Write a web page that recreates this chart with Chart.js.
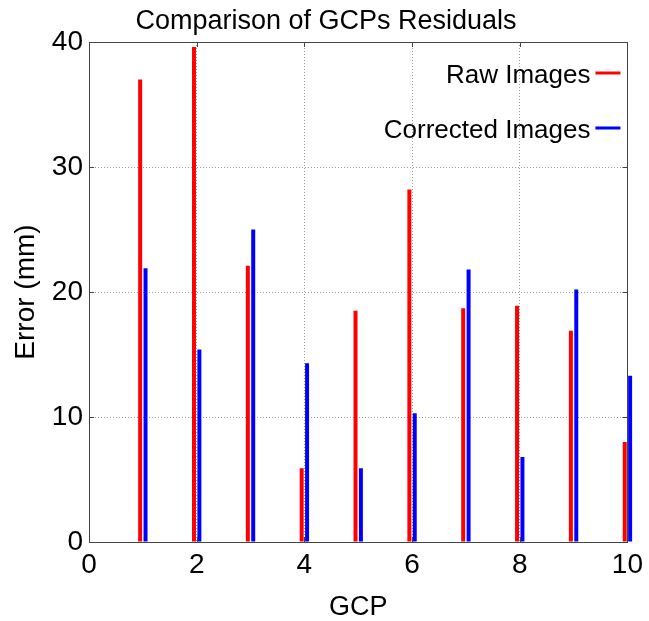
<!DOCTYPE html>
<html>
<head>
<meta charset="utf-8">
<script src="https://cdn.jsdelivr.net/npm/chart.js@4/dist/chart.umd.min.js"></script>
<style>
  html, body { margin: 0; padding: 0; background: #fff; }
  #wrap { width: 649px; height: 621px; }
</style>
</head>
<body>
<div id="wrap"><canvas id="c" width="649" height="621"></canvas></div>
<script>
const gcp = [1, 2, 3, 4, 5, 6, 7, 8, 9, 10];
const rawImages = [37.0, 39.6, 22.1, 5.9, 18.5, 28.2, 18.7, 18.9, 16.9, 8.0];
const correctedImages = [21.9, 15.4, 25.0, 14.3, 5.9, 10.3, 21.8, 6.8, 20.2, 13.3];
const seriesLabels = ['Raw Images', 'Corrected Images'];
const seriesColors = ['#ff0000', '#0000ff'];
const titleText = 'Comparison of GCPs Residuals';
const xTitle = 'GCP';
const yTitle = 'Error (mm)';

const FONT = "'Liberation Sans', Arial, Helvetica, sans-serif";

const boxPlugin = {
  id: 'boxPlugin',
  afterDraw(chart) {
    const ctx = chart.ctx;
    const a = chart.chartArea;
    const xs = chart.scales.x, ys = chart.scales.y;
    ctx.save();
    ctx.strokeStyle = '#444';
    ctx.lineWidth = 1;
    ctx.strokeRect(Math.round(a.left) + 0.5, Math.round(a.top) + 0.5,
                   Math.round(a.right - a.left), Math.round(a.bottom - a.top));
    const tl = 5;
    ctx.beginPath();
    xs.ticks.forEach(t => {
      const px = Math.round(xs.getPixelForValue(t.value)) + 0.5;
      ctx.moveTo(px, a.bottom); ctx.lineTo(px, a.bottom - tl);
      ctx.moveTo(px, a.top); ctx.lineTo(px, a.top + tl);
    });
    ys.ticks.forEach(t => {
      const py = Math.round(ys.getPixelForValue(t.value)) + 0.5;
      ctx.moveTo(a.left, py); ctx.lineTo(a.left + tl, py);
      ctx.moveTo(a.right, py); ctx.lineTo(a.right - tl, py);
    });
    ctx.stroke();

    // legend inside plot, top right, sample line right of text
    ctx.font = '26px ' + FONT;
    ctx.textAlign = 'right';
    ctx.textBaseline = 'middle';
    const rows = [75, 130];
    chart.data.datasets.forEach((ds, i) => {
      const y = rows[i];
      ctx.fillStyle = '#000';
      ctx.fillText(ds.label, a.right - 37, y + 1);
      ctx.strokeStyle = ds.backgroundColor;
      ctx.lineWidth = 3;
      ctx.beginPath();
      ctx.moveTo(a.right - 32, y - 2);
      ctx.lineTo(a.right - 7, y - 2);
      ctx.stroke();
    });
    ctx.restore();
  }
};

new Chart(document.getElementById('c'), {
  type: 'bar',
  data: {
    datasets: [
      { label: seriesLabels[0], data: gcp.map((g, i) => ({ x: g, y: rawImages[i] })),
        backgroundColor: seriesColors[0], borderWidth: 0, clip: false },
      { label: seriesLabels[1], data: gcp.map((g, i) => ({ x: g, y: correctedImages[i] })),
        backgroundColor: seriesColors[1], borderWidth: 0, clip: false }
    ]
  },
  options: {
    responsive: false,
    animation: false,
    devicePixelRatio: 1,
    categoryPercentage: 0.2,
    barPercentage: 0.74,
    layout: { padding: { left: 21, right: 18, top: 0, bottom: 0 } },
    plugins: {
      legend: { display: false },
      tooltip: { enabled: false },
      title: {
        display: true,
        text: titleText,
        color: '#000',
        font: { family: FONT, size: 27, weight: 'normal', lineHeight: 1.2 },
        padding: { top: 5, bottom: 4.6 }
      }
    },
    scales: {
      x: {
        type: 'linear',
        min: 0, max: 10,
        offset: false,
        grid: { offset: false, color: '#9a9a9a', drawTicks: false },
        border: { display: false, dash: [1, 2] },
        ticks: { stepSize: 2, color: '#000', padding: 6,
                 font: { family: FONT, size: 28 } },
        title: { display: true, text: xTitle, color: '#000',
                 font: { family: FONT, size: 27 }, padding: { top: 0, bottom: -3 } },
        afterFit(s) { s.height = 79; }
      },
      y: {
        min: 0, max: 40,
        grid: { color: '#9a9a9a', drawTicks: false },
        border: { display: false, dash: [1, 2] },
        ticks: { stepSize: 10, color: '#000', padding: 6,
                 font: { family: FONT, size: 28 } },
        title: { display: true, text: yTitle, color: '#000',
                 font: { family: FONT, size: 28 }, padding: { top: -12, bottom: 0 } },
        afterFit(s) { s.width = 68; }
      }
    }
  },
  plugins: [boxPlugin]
});
</script>
</body>
</html>
